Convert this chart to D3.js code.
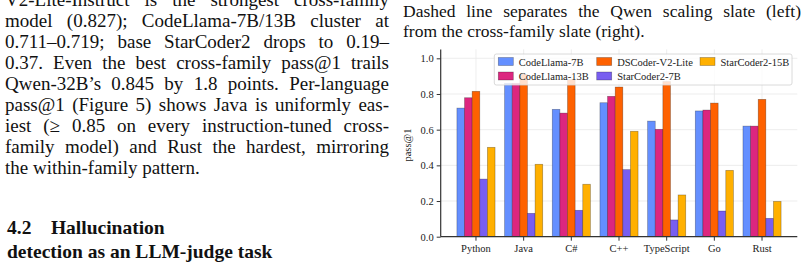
<!DOCTYPE html>
<html>
<head>
<meta charset="utf-8">
<script src="https://cdn.jsdelivr.net/npm/d3@7.9.0/dist/d3.min.js"></script>
<style>
  body { margin: 0; width: 805px; height: 268px; overflow: hidden; background: #fff; position: relative; }
  .col { position: absolute; font-family: "Liberation Serif", "DejaVu Serif", serif; color: #111; }
  .col div { white-space: nowrap; }
  .col span { white-space: nowrap; }
  .head { font-weight: bold; }
  svg { position: absolute; left: 0; top: 0; }
  svg text { font-family: "Liberation Serif", "DejaVu Serif", serif; }
</style>
</head>
<body>
<script>
// text around the figure
const leftLines = [
  "V2-Lite-Instruct is the strongest cross-family",
  "model (0.827); CodeLlama-7B/13B cluster at",
  "0.711–0.719; base StarCoder2 drops to 0.19–",
  "0.37. Even the best cross-family pass@1 trails",
  "Qwen-32B’s 0.845 by 1.8 points. Per-language",
  "pass@1 (Figure 5) shows Java is uniformly eas-",
  "iest (≥ 0.85 on every instruction-tuned cross-",
  "family model) and Rust the hardest, mirroring",
  "the within-family pattern."
];
const headingLines = ["4.2\u2003Hallucination", "detection as an LLM-judge task"];
const captionLines = [
  "Dashed line separates the Qwen scaling slate (left)",
  "from the cross-family slate (right)."
];

// chart data
const languages = ["Python", "Java", "C#", "C++", "TypeScript", "Go", "Rust"];
const models = ["CodeLlama-7B", "CodeLlama-13B", "DSCoder-V2-Lite", "StarCoder2-7B", "StarCoder2-15B"];
const colors = ["#648FFF", "#DC267F", "#FE6100", "#785EF0", "#FFB000"];
const codellama7b  = [0.721, 0.860, 0.714, 0.751, 0.648, 0.705, 0.620];
const codellama13b = [0.779, 0.860, 0.693, 0.787, 0.602, 0.710, 0.620];
const dscoderLite  = [0.815, 0.910, 0.880, 0.839, 0.870, 0.749, 0.770];
const starcoder7b  = [0.323, 0.131, 0.148, 0.376, 0.094, 0.144, 0.103];
const starcoder15b = [0.501, 0.406, 0.294, 0.591, 0.234, 0.372, 0.198];
const yTicks = [0, 0.2, 0.4, 0.6, 0.8, 1.0];

const series = [codellama7b, codellama13b, dscoderLite, starcoder7b, starcoder15b];

// paragraph blocks; justified lines get their word spacing measured
function textBlock(lines, opts) {
  const block = d3.select("body").append("div")
      .attr("class", "col" + (opts.cls ? " " + opts.cls : ""))
      .style("left", opts.x + "px")
      .style("top", opts.top + "px")
      .style("width", opts.w + "px")
      .style("font-size", opts.size + "px")
      .style("line-height", opts.lh + "px");
  lines.forEach((t, i) => {
    const row = block.append("div");
    const span = row.append("span").text(t);
    if (opts.justify && i < lines.length - 1) {
      const natural = span.node().getBoundingClientRect().width;
      const gaps = t.split(" ").length - 1;
      if (gaps > 0) span.style("word-spacing", ((opts.w - natural) / gaps) + "px");
    }
  });
}

textBlock(leftLines, { x: 5, top: -11.4, w: 384, size: 19, lh: 21, justify: true });
textBlock(headingLines, { x: 7, top: 216, w: 384, size: 19.5, lh: 23.5, cls: "head" });
textBlock(captionLines, { x: 403, top: 1, w: 398, size: 17.5, lh: 20, justify: true });

// chart
const svg = d3.select("body").append("svg").attr("width", 805).attr("height", 268);

const x = d3.scaleBand().domain(languages).range([440.7, 797.3]).paddingInner(0).paddingOuter(0.24);
const xs = d3.scaleBand().domain(models).range([0, x.step() * 0.8]);
const y = d3.scaleLinear().domain([0, 1.05]).range([236.7, 49.4]);

const plotL = 440.7, plotR = 797.3, plotT = y(1.05), plotB = y(0);

// grid
const grid = svg.append("g").attr("stroke", "#e8e8e8").attr("stroke-width", 0.8);
grid.selectAll(".gy").data(yTicks.slice(1)).join("line")
    .attr("x1", plotL).attr("x2", plotR)
    .attr("y1", d => y(d)).attr("y2", d => y(d));
grid.selectAll(".gx").data(languages).join("line")
    .attr("x1", d => x(d) + x.bandwidth() / 2).attr("x2", d => x(d) + x.bandwidth() / 2)
    .attr("y1", plotT).attr("y2", plotB);

// bars
series.forEach((vals, si) => {
  svg.append("g").selectAll("rect").data(vals).join("rect")
      .attr("x", (d, i) => x(languages[i]) + x.bandwidth() * 0.1 + xs(models[si]))
      .attr("width", xs.bandwidth())
      .attr("y", d => y(d))
      .attr("height", d => y(0) - y(d))
      .attr("fill", colors[si])
      .attr("stroke", "rgba(0,0,0,0.35)")
      .attr("stroke-width", 0.7);
});

// axes
const yAxis = svg.append("g").attr("transform", `translate(${plotL},0)`)
    .call(d3.axisLeft(y).tickValues(yTicks).tickFormat(d3.format(".1f")).tickSize(4).tickPadding(3));
const xAxis = svg.append("g").attr("transform", `translate(0,${plotB})`)
    .call(d3.axisBottom(x).tickSize(4).tickPadding(4));
[yAxis, xAxis].forEach(g => {
  g.select(".domain").attr("stroke", "#333").attr("stroke-width", 1.2);
  g.selectAll(".tick line").attr("stroke", "#333").attr("stroke-width", 1);
  g.selectAll(".tick text").attr("fill", "#222").style("font-size", "10.5px")
      .style("font-family", "'Liberation Serif', serif");
});
yAxis.select(".domain").attr("d", `M-0,${plotT}V${plotB}`);
xAxis.select(".domain").attr("d", `M${plotL},0H${plotR}`);

svg.append("text")
    .attr("transform", `translate(411,${(plotT + plotB) / 2 + 2}) rotate(-90)`)
    .attr("text-anchor", "middle")
    .style("font-size", "10.5px")
    .attr("fill", "#222")
    .text("pass@1");

// legend
const lg = svg.append("g");
lg.append("rect")
    .attr("x", 494.3).attr("y", 54).attr("width", 297.7).attr("height", 31)
    .attr("rx", 2)
    .attr("fill", "#fff").attr("fill-opacity", 0.8)
    .attr("stroke", "#d0d0d0").attr("stroke-width", 0.8);
const colX = [498.3, 596.7, 700];
models.forEach((m, i) => {
  const cx = colX[Math.floor(i / 2)];
  const cy = 57.5 + (i % 2) * 14.5;
  lg.append("rect").attr("x", cx).attr("y", cy).attr("width", 15).attr("height", 8)
      .attr("fill", colors[i]).attr("stroke", "rgba(0,0,0,0.35)").attr("stroke-width", 0.7);
  lg.append("text").attr("x", cx + 20.5).attr("y", cy + 8)
      .style("font-size", "10.5px").attr("fill", "#222").text(m);
});
</script>
</body>
</html>
